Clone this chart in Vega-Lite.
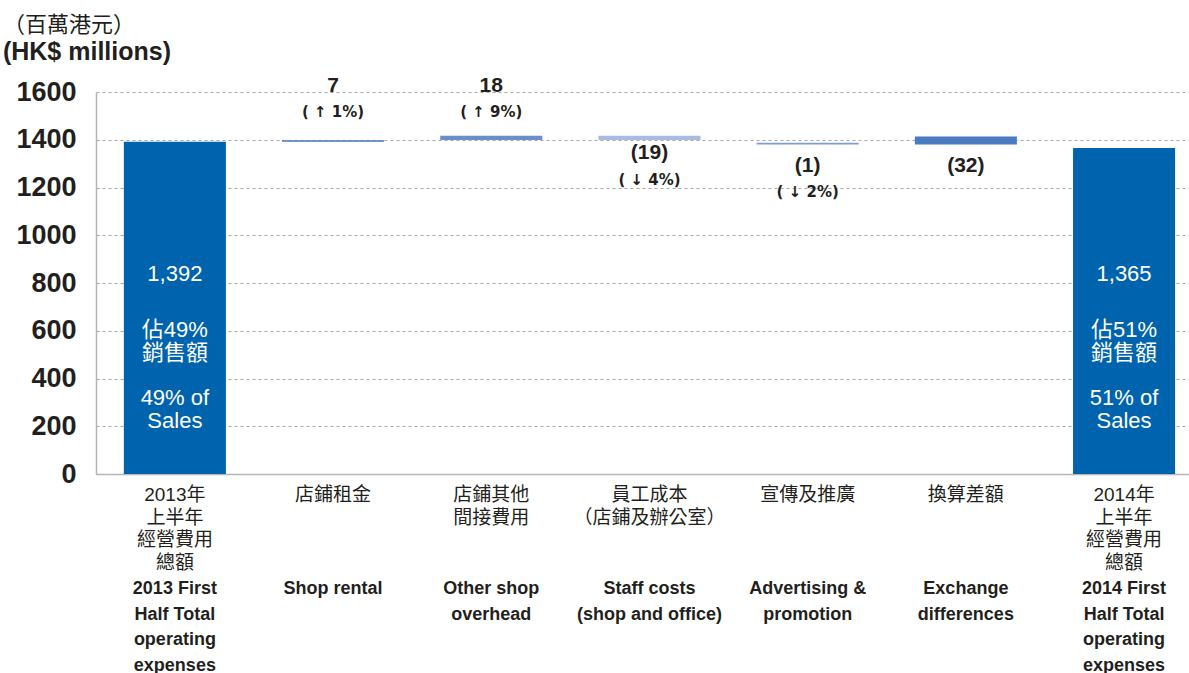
{
  "$schema": "https://vega.github.io/schema/vega-lite/v6.json",
  "width": 1093,
  "height": 382,
  "autosize": {"type": "none"},
  "padding": {"left": 96, "top": 92, "right": 0, "bottom": 199},
  "background": "white",
  "config": {
    "font": "Liberation Sans, Noto Sans CJK TC, DejaVu Sans, sans-serif",
    "view": {"stroke": null},
    "text": {"lineBreak": "\n"}
  },
  "title": {
    "text": "（百萬港元）",
    "subtitle": "(HK$ millions)",
    "anchor": "start",
    "dx": -13,
    "offset": 9,
    "fontSize": 22,
    "fontWeight": "normal",
    "color": "#231f20",
    "subtitleFontSize": 25,
    "subtitleFontWeight": "bold",
    "subtitleColor": "#231f20",
    "subtitlePadding": 3,
    "font": "Liberation Sans, Noto Sans CJK TC, sans-serif",
    "subtitleFont": "Liberation Sans, Noto Sans CJK TC, sans-serif"
  },
  "data": {
    "values": [
      {"key": "2013 total", "start": 0, "end": 1392, "amount": "", "pct": "", "zh": "2013年\n上半年\n經營費用\n總額", "en": "2013 First\nHalf Total\noperating\nexpenses", "inVal": "1,392", "inZh": "佔49%\n銷售額", "inEn": "49% of\nSales"},
      {"key": "Shop rental", "start": 1392, "end": 1398, "amount": "7", "pct": "( ↑ 1%)", "zh": "店鋪租金", "en": "Shop rental", "inVal": "", "inZh": "", "inEn": ""},
      {"key": "Other shop overhead", "start": 1399, "end": 1417, "amount": "18", "pct": "( ↑ 9%)", "zh": "店鋪其他\n間接費用", "en": "Other shop\noverhead", "inVal": "", "inZh": "", "inEn": ""},
      {"key": "Staff costs", "start": 1417, "end": 1399, "amount": "(19)", "pct": "( ↓ 4%)", "zh": "員工成本\n（店鋪及辦公室）", "en": "Staff costs\n(shop and office)", "inVal": "", "inZh": "", "inEn": ""},
      {"key": "Advertising & promotion", "start": 1387, "end": 1380, "amount": "(1)", "pct": "( ↓ 2%)", "zh": "宣傳及推廣", "en": "Advertising &\npromotion", "inVal": "", "inZh": "", "inEn": ""},
      {"key": "Exchange differences", "start": 1414, "end": 1380, "amount": "(32)", "pct": "", "zh": "換算差額", "en": "Exchange\ndifferences", "inVal": "", "inZh": "", "inEn": ""},
      {"key": "2014 total", "start": 0, "end": 1365, "amount": "", "pct": "", "zh": "2014年\n上半年\n經營費用\n總額", "en": "2014 First\nHalf Total\noperating\nexpenses", "inVal": "1,365", "inZh": "佔51%\n銷售額", "inEn": "51% of\nSales"}
    ]
  },
  "encoding": {
    "x": {
      "field": "key",
      "type": "nominal",
      "sort": null,
      "scale": {"paddingInner": 0.355, "paddingOuter": 0.132, "align": 0.667},
      "axis": {"title": null, "labels": false, "ticks": false, "grid": false, "domainColor": "#b5b5b5", "domainWidth": 1.5}
    }
  },
  "layer": [
    {
      "mark": {"type": "bar"},
      "encoding": {
        "y": {
          "field": "start",
          "type": "quantitative",
          "scale": {"domain": [0, 1600], "nice": false, "zero": true},
          "axis": {
            "title": null,
            "values": [0, 200, 400, 600, 800, 1000, 1200, 1400, 1600],
            "format": "d",
            "ticks": false,
            "labelFontSize": 27,
            "labelFontWeight": "bold",
            "labelColor": "#231f20",
            "labelPadding": 20,
            "domainColor": "#b5b5b5",
            "domainWidth": 1.5,
            "grid": true,
            "gridColor": "#a8a8a8",
            "gridDash": [3, 3],
            "gridWidth": 1.2
          }
        },
        "y2": {"field": "end"},
        "color": {
          "field": "key",
          "type": "nominal",
          "scale": {
            "domain": ["2013 total", "Shop rental", "Other shop overhead", "Staff costs", "Advertising & promotion", "Exchange differences", "2014 total"],
            "range": ["#0063ad", "#4a78c2", "#6a8dcb", "#a9bce0", "#7b9dd5", "#4b7bc0", "#0063ad"]
          },
          "legend": null
        }
      }
    },
    {
      "transform": [{"filter": {"field": "key", "oneOf": ["Shop rental", "Other shop overhead"]}}],
      "mark": {"type": "text", "fontSize": 21, "fontWeight": "bold", "color": "#231f20", "baseline": "middle"},
      "encoding": {"y": {"datum": 1625, "type": "quantitative"}, "text": {"field": "amount"}}
    },
    {
      "transform": [{"filter": {"field": "key", "oneOf": ["Shop rental", "Other shop overhead"]}}],
      "mark": {"type": "text", "fontSize": 15, "fontWeight": "bold", "font": "DejaVu Sans", "color": "#231f20", "baseline": "middle"},
      "encoding": {"y": {"datum": 1516, "type": "quantitative"}, "text": {"field": "pct"}}
    },
    {
      "transform": [{"filter": {"field": "key", "equal": "Staff costs"}}],
      "mark": {"type": "text", "fontSize": 21, "fontWeight": "bold", "color": "#231f20", "baseline": "middle"},
      "encoding": {"y": {"datum": 1344, "type": "quantitative"}, "text": {"field": "amount"}}
    },
    {
      "transform": [{"filter": {"field": "key", "equal": "Staff costs"}}],
      "mark": {"type": "text", "fontSize": 15, "fontWeight": "bold", "font": "DejaVu Sans", "color": "#231f20", "baseline": "middle"},
      "encoding": {"y": {"datum": 1231, "type": "quantitative"}, "text": {"field": "pct"}}
    },
    {
      "transform": [{"filter": {"field": "key", "oneOf": ["Advertising & promotion", "Exchange differences"]}}],
      "mark": {"type": "text", "fontSize": 21, "fontWeight": "bold", "color": "#231f20", "baseline": "middle"},
      "encoding": {"y": {"datum": 1292, "type": "quantitative"}, "text": {"field": "amount"}}
    },
    {
      "transform": [{"filter": {"field": "key", "equal": "Advertising & promotion"}}],
      "mark": {"type": "text", "fontSize": 15, "fontWeight": "bold", "font": "DejaVu Sans", "color": "#231f20", "baseline": "middle"},
      "encoding": {"y": {"datum": 1181, "type": "quantitative"}, "text": {"field": "pct"}}
    },
    {
      "mark": {"type": "text", "fontSize": 22, "color": "white", "baseline": "middle"},
      "encoding": {"y": {"datum": 837, "type": "quantitative"}, "text": {"field": "inVal"}}
    },
    {
      "mark": {"type": "text", "fontSize": 22, "color": "white", "baseline": "top", "lineHeight": 23},
      "encoding": {"y": {"datum": 647, "type": "quantitative"}, "text": {"field": "inZh"}}
    },
    {
      "mark": {"type": "text", "fontSize": 22, "color": "white", "baseline": "top", "lineHeight": 23},
      "encoding": {"y": {"datum": 362, "type": "quantitative"}, "text": {"field": "inEn"}}
    },
    {
      "mark": {"type": "text", "fontSize": 19, "color": "#231f20", "baseline": "top", "lineHeight": 22.7, "dy": 12},
      "encoding": {"y": {"datum": 0, "type": "quantitative"}, "text": {"field": "zh"}}
    },
    {
      "mark": {"type": "text", "fontSize": 18, "fontWeight": "bold", "color": "#231f20", "baseline": "top", "lineHeight": 25.5, "dy": 106},
      "encoding": {"y": {"datum": 0, "type": "quantitative"}, "text": {"field": "en"}}
    }
  ]
}
